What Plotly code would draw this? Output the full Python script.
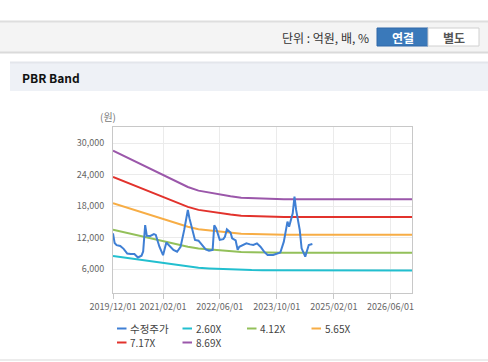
import plotly.graph_objects as go

# ---------------- data ----------------
price_dates = [
    "2019-12-01", "2019-12-15", "2020-01-01", "2020-02-01", "2020-03-01", "2020-04-01",
    "2020-05-01", "2020-06-01", "2020-07-01", "2020-08-01", "2020-08-15", "2020-09-01",
    "2020-09-15", "2020-10-15", "2020-11-15", "2020-12-01", "2021-01-01", "2021-02-01",
    "2021-03-01", "2021-04-01", "2021-05-01", "2021-06-01", "2021-07-01", "2021-08-01",
    "2021-09-01", "2021-09-15", "2021-10-15", "2021-11-01", "2021-12-01", "2022-01-01",
    "2022-02-01", "2022-03-01", "2022-04-01", "2022-04-15", "2022-05-01", "2022-06-01",
    "2022-07-01", "2022-07-15", "2022-08-01", "2022-09-01", "2022-09-15", "2022-10-15",
    "2022-11-01", "2022-11-15", "2022-12-15", "2023-01-15", "2023-02-15", "2023-03-15",
    "2023-04-15", "2023-05-15", "2023-06-15", "2023-07-15", "2023-09-01", "2023-10-01",
    "2023-11-01", "2023-12-01", "2024-01-01", "2024-01-15", "2024-02-15", "2024-03-01",
    "2024-03-15", "2024-04-15", "2024-05-01", "2024-06-01", "2024-07-01", "2024-08-01",
]
price_values = [
    12850, 11000, 10600, 10450, 9900, 9000,
    8900, 8900, 8250, 8600, 9400, 14400,
    12400, 12350, 12700, 12550, 10300, 8700,
    11100, 10300, 9700, 9350, 10300, 13500,
    17300, 15700, 13100, 11600, 11450, 10600,
    9800, 9550, 9700, 14400, 13800, 11600,
    11750, 12200, 13600, 13000, 11900, 11500,
    9700, 10300, 10600, 10950, 10750, 10650,
    10950, 10300, 9360, 8730, 8730, 9000,
    9200, 11270, 15080, 14130, 16660, 19840,
    17300, 13490, 10000, 8410, 10630, 10820,
]

band_dates = [
    "2019-12-01", "2020-03-01", "2020-06-01", "2020-09-01", "2020-12-01", "2021-03-01",
    "2021-06-01", "2021-09-01", "2021-12-01", "2022-03-01", "2022-06-01", "2022-09-01",
    "2022-12-01", "2023-03-01", "2023-06-01", "2023-09-01", "2023-12-01", "2026-12-01",
]
band_260 = [8557, 8260, 7964, 7667, 7371, 7072, 6778, 6487, 6279, 6165, 6058, 5964,
            5879, 5850, 5834, 5824, 5785, 5785]
band_412 = [13559, 13089, 12620, 12150, 11680, 11206, 10741, 10279, 9950, 9769, 9600, 9451,
            9315, 9270, 9245, 9229, 9167, 9167]
band_565 = [18594, 17950, 17306, 16662, 16018, 15368, 14730, 14097, 13645, 13396, 13165, 12961,
            12775, 12713, 12679, 12656, 12571, 12571]
band_717 = [23596, 22779, 21962, 21144, 20327, 19502, 18692, 17889, 17316, 17000, 16706, 16448,
            16211, 16133, 16089, 16061, 15953, 15953]
band_869 = [28599, 27608, 26617, 25627, 24636, 23637, 22655, 21682, 20986, 20604, 20248, 19935,
            19648, 19553, 19500, 19466, 19335, 19335]

series_names = ["수정주가", "2.60X", "4.12X", "5.65X", "7.17X", "8.69X"]
series_colors = ["#3f7fd4", "#22bfcf", "#93c05a", "#f7ad45", "#e2322c", "#9b57aa"]

x_tickvals = ["2019-12-01", "2021-02-01", "2022-06-01", "2023-10-01", "2025-02-01", "2026-06-01"]
x_ticktext = ["2019/12/01", "2021/02/01", "2022/06/01", "2023/10/01", "2025/02/01", "2026/06/01"]
y_tickvals = [6000, 12000, 18000, 24000, 30000]
y_ticktext = ["6,000", "12,000", "18,000", "24,000", "30,000"]

# ---------------- layout helpers (pixel -> paper) ----------------
W, H = 488, 362
ML, MR, MT, MB = 113, 76, 127, 69
PW, PH = W - ML - MR, H - MT - MB


def px(x):
    return (x - ML) / PW


def py(y):
    return (H - MB - y) / PH


FONT = "Noto Sans CJK KR"

fig = go.Figure()

bands = [band_260, band_412, band_565, band_717, band_869]
for i, b in enumerate(bands):
    fig.add_trace(go.Scatter(
        x=band_dates, y=b, mode="lines", name=series_names[i + 1],
        line=dict(color=series_colors[i + 1], width=2), showlegend=False,
    ))
fig.add_trace(go.Scatter(
    x=price_dates, y=price_values, mode="lines", name=series_names[0],
    line=dict(color=series_colors[0], width=2), showlegend=False,
))

shapes = []
annotations = []

# header bar
shapes.append(dict(type="rect", xref="paper", yref="paper", x0=px(0), x1=px(W), y0=py(52), y1=py(21),
                   fillcolor="#f4f4f4", line=dict(width=0), layer="below"))
shapes.append(dict(type="line", xref="paper", yref="paper", x0=px(0), x1=px(W), y0=py(21.5), y1=py(21.5),
                   line=dict(color="#dedede", width=2)))
shapes.append(dict(type="line", xref="paper", yref="paper", x0=px(0), x1=px(W), y0=py(52.5), y1=py(52.5),
                   line=dict(color="#dadada", width=2)))
# buttons
shapes.append(dict(type="rect", xref="paper", yref="paper", x0=px(377), x1=px(428), y0=py(46), y1=py(28),
                   fillcolor="#3a79ba", line=dict(color="#3069a8", width=1)))
shapes.append(dict(type="rect", xref="paper", yref="paper", x0=px(428), x1=px(479), y0=py(46), y1=py(28),
                   fillcolor="#ffffff", line=dict(color="#d0d0d0", width=1)))
annotations.append(dict(xref="paper", yref="paper", x=px(371), y=py(37.5), xanchor="right", yanchor="middle",
                        text="단위 : 억원, 배, %", showarrow=False, font=dict(family=FONT, size=12, color="#333333")))
annotations.append(dict(xref="paper", yref="paper", x=px(402.5), y=py(37.5), xanchor="center", yanchor="middle",
                        text="<b>연결</b>", showarrow=False, font=dict(family=FONT, size=12, color="#ffffff")))
annotations.append(dict(xref="paper", yref="paper", x=px(453.5), y=py(37.5), xanchor="center", yanchor="middle",
                        text="<b>별도</b>", showarrow=False, font=dict(family=FONT, size=12, color="#555555")))

# section title bar
shapes.append(dict(type="rect", xref="paper", yref="paper", x0=px(10), x1=px(W), y0=py(91), y1=py(62),
                   fillcolor="#eef1f6", line=dict(width=0), layer="below"))
shapes.append(dict(type="line", xref="paper", yref="paper", x0=px(10), x1=px(W), y0=py(62.5), y1=py(62.5),
                   line=dict(color="#e3e6eb", width=2)))
annotations.append(dict(xref="paper", yref="paper", x=px(20), y=py(77), xanchor="left", yanchor="middle",
                        text="<b>PBR Band</b>", showarrow=False, font=dict(family=FONT, size=12, color="#111111")))
# bottom separator
shapes.append(dict(type="line", xref="paper", yref="paper", x0=px(0), x1=px(W), y0=py(360), y1=py(360),
                   line=dict(color="#ececec", width=2)))

# unit label
annotations.append(dict(xref="paper", yref="paper", x=px(108), y=py(117), xanchor="center", yanchor="middle",
                        text="(원)", showarrow=False, font=dict(family=FONT, size=10, color="#777777")))

# manual legend
legend_pos = [(117, 328.5), (182.5, 328.5), (247, 328.5), (311.5, 328.5), (117, 342.5), (182.5, 342.5)]
for name, color, (lx, ly) in zip(series_names, series_colors, legend_pos):
    shapes.append(dict(type="line", xref="paper", yref="paper", x0=px(lx), x1=px(lx + 9.5), y0=py(ly), y1=py(ly),
                       line=dict(color=color, width=2)))
    annotations.append(dict(xref="paper", yref="paper", x=px(lx + 12), y=py(ly), xanchor="left", yanchor="middle",
                            text=name, showarrow=False, borderpad=0,
                            font=dict(family=FONT, size=10.5 if name == "수정주가" else 10, color="#444444")))

fig.update_layout(
    width=W, height=H,
    margin=dict(l=ML, r=MR, t=MT, b=MB, pad=0),
    paper_bgcolor="#ffffff", plot_bgcolor="#ffffff",
    showlegend=False,
    shapes=shapes, annotations=annotations,
    font=dict(family=FONT, size=9, color="#666666"),
    xaxis=dict(
        type="date", range=["2019-12-01", "2026-12-01"],
        tickvals=x_tickvals, ticktext=x_ticktext,
        tickfont=dict(family=FONT, size=9, color="#666666"),
        ticks="outside", ticklen=5, tickcolor="#c8c8c8",
        showgrid=True, gridcolor="#ebebeb", gridwidth=1,
        showline=True, linecolor="#c8c8c8", linewidth=1, mirror=True,
        zeroline=False,
    ),
    yaxis=dict(
        range=[1490, 33100],
        tickvals=y_tickvals, ticktext=y_ticktext,
        tickfont=dict(family=FONT, size=9, color="#666666"),
        ticks="", ticklabelstandoff=6,
        showgrid=True, gridcolor="#ebebeb", gridwidth=1,
        showline=True, linecolor="#c8c8c8", linewidth=1, mirror=True,
        zeroline=False,
    ),
)

fig.write_html(
    "out.html",
    config={"displayModeBar": False},
    post_script="document.body.style.margin='0';document.body.style.padding='0';",
)
